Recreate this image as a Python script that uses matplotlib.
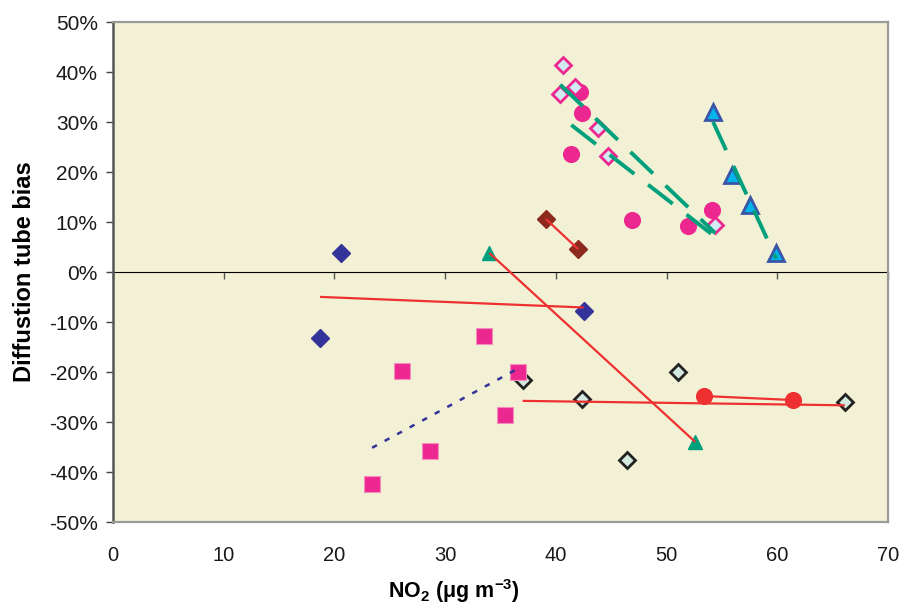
import numpy as np
import matplotlib.pyplot as plt
from matplotlib.ticker import PercentFormatter

plt.rcParams['font.family'] = ['Liberation Sans', 'DejaVu Sans']
plt.rcParams['axes.unicode_minus'] = False
plt.rcParams['mathtext.fontset'] = 'custom'
plt.rcParams['mathtext.bf'] = 'Liberation Sans:bold'
plt.rcParams['mathtext.rm'] = 'Liberation Sans:bold'
plt.rcParams['mathtext.default'] = 'bf'

# NO2 (ug m-3) against diffusion tube bias (%) for each site group
blue_diamond_x = [20.6, 18.7, 42.5]
blue_diamond_y = [3.8, -13.2, -7.8]

brown_diamond_x = [39.1, 42.0]
brown_diamond_y = [10.6, 4.6]

green_triangle_x = [34.0, 52.6]
green_triangle_y = [3.8, -34.0]

open_diamond_x = [37.0, 42.4, 46.4, 51.0, 66.1]
open_diamond_y = [-21.6, -25.4, -37.6, -20.0, -26.0]

red_circle_x = [53.4, 61.4]
red_circle_y = [-24.8, -25.6]

pink_square_x = [23.4, 28.6, 26.1, 33.5, 36.6, 35.4]
pink_square_y = [-42.4, -35.8, -19.7, -12.7, -19.9, -28.5]

pink_circle_x = [42.2, 42.4, 41.4, 46.9, 54.1, 51.9]
pink_circle_y = [36.1, 31.9, 23.7, 10.4, 12.5, 9.3]

pink_open_diamond_x = [40.6, 40.4, 41.7, 43.8, 44.7, 54.4]
pink_open_diamond_y = [41.4, 35.7, 37.0, 28.9, 23.2, 9.4]

cyan_triangle_x = [54.2, 55.9, 57.5, 59.9]
cyan_triangle_y = [32.1, 19.4, 13.4, 3.9]

x_ticks = [0, 10, 20, 30, 40, 50, 60, 70]
y_ticks = [-50, -40, -30, -20, -10, 0, 10, 20, 30, 40, 50]

RED = '#ee3030'
TEAL = '#00a07c'
NAVY = '#333399'
PINK = '#ec2890'

fig = plt.figure(figsize=(9.05, 6.12), dpi=100)
ax = fig.add_axes([0.1249, 0.147, 0.8563, 0.817])
ax.set_facecolor('#f3f1d5')

# (x, y, marker style, trend line style)
series = [
    (blue_diamond_x, blue_diamond_y,
     dict(marker='D', ms=9.2, mfc=NAVY, mec=NAVY),
     dict(color=RED, lw=1.6)),
    (brown_diamond_x, brown_diamond_y,
     dict(marker='D', ms=9.2, mfc='#8c2a1e', mec='#8c2a1e'),
     dict(color=RED, lw=1.6)),
    (green_triangle_x, green_triangle_y,
     dict(marker='^', ms=10, mfc=TEAL, mec=TEAL),
     dict(color=RED, lw=1.6)),
    (open_diamond_x, open_diamond_y,
     dict(marker='D', ms=8.5, mfc='#d4eae0', mec='#222222', mew=2),
     dict(color=RED, lw=1.6)),
    (red_circle_x, red_circle_y,
     dict(marker='o', ms=11.3, mfc=RED, mec=RED),
     dict(color=RED, lw=1.6)),
    (pink_square_x, pink_square_y,
     dict(marker='s', ms=11, mfc=PINK, mec='#f48cbc', mew=0.8),
     dict(color=NAVY, lw=1.8, dashes=(2.2, 3.5))),
    (pink_circle_x, pink_circle_y,
     dict(marker='o', ms=11.3, mfc=PINK, mec=PINK),
     dict(color=TEAL, lw=2.8, dashes=(8, 4.5))),
    (pink_open_diamond_x, pink_open_diamond_y,
     dict(marker='D', ms=8.5, mfc='#d2eaf2', mec=PINK, mew=2),
     dict(color=TEAL, lw=2.8, dashes=(8, 4.5))),
    (cyan_triangle_x, cyan_triangle_y,
     dict(marker='^', ms=12, mfc='#00b4ec', mec='#3a55a8', mew=2),
     dict(color=TEAL, lw=2.8, dashes=(8, 4.5))),
]

for xs, ys, marker_style, line_style in series:
    ax.plot(xs, ys, ls='none', zorder=3, **marker_style)
    slope, intercept = np.polyfit(xs, ys, 1)
    fit_x = np.array([min(xs), max(xs)])
    ax.plot(fit_x, slope * fit_x + intercept, solid_capstyle='butt',
            dash_capstyle='butt', zorder=4, **line_style)

ax.set_xlim(0, 70)
ax.set_ylim(-50, 50)
ax.set_xticks(x_ticks)
ax.set_yticks(y_ticks)
ax.yaxis.set_major_formatter(PercentFormatter(decimals=0))
ax.tick_params(axis='x', length=0, pad=17, labelsize=14.5, labelcolor='#1a1a1a')
ax.tick_params(axis='y', length=5, width=1, color='#444444', labelsize=15,
               labelcolor='#1a1a1a', pad=6)

for side in ['top', 'right', 'bottom']:
    ax.spines[side].set_color('#9a9a9a')
    ax.spines[side].set_linewidth(1.6)
ax.spines['left'].set_color('#555555')
ax.spines['left'].set_linewidth(1.8)

# horizontal axis line at zero with its tick marks
zero_axis = ax.secondary_xaxis(0.5)
zero_axis.set_xticks(x_ticks)
zero_axis.set_xticklabels([])
zero_axis.tick_params(length=5, width=1, color='#555555', direction='in')
zero_axis.spines['bottom'].set_color('#666666')
zero_axis.spines['bottom'].set_linewidth(1.3)

ax.set_xlabel('NO$_2$ ($\\mathregular{\\mu}$g m$^{-3}$)', fontsize=15.5,
              fontweight='bold')
ax.xaxis.set_label_coords(0.44, -0.11)
ax.set_ylabel('Diffustion tube bias', fontsize=17, fontweight='bold')
ax.yaxis.set_label_coords(-0.099, 0.5)

fig.savefig('out.png', dpi=100)
